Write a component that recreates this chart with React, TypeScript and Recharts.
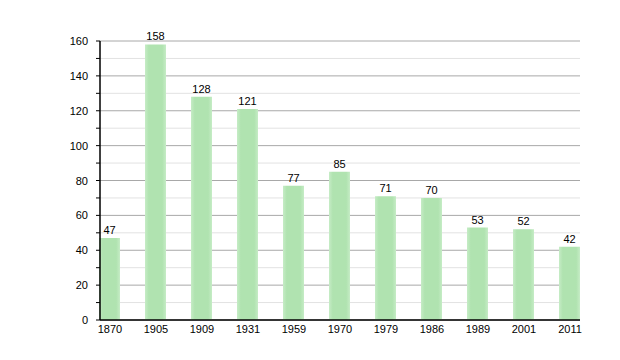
import React from "react";
import { BarChart, Bar, XAxis, YAxis, CartesianGrid, LabelList } from "recharts";

const years = ["1870", "1905", "1909", "1931", "1959", "1970", "1979", "1986", "1989", "2001", "2011"];
const population = [47, 158, 128, 121, 77, 85, 71, 70, 53, 52, 42];
const yTicks = [0, 10, 20, 30, 40, 50, 60, 70, 80, 90, 100, 110, 120, 130, 140, 150, 160];
const majorLines = [0, 20, 40, 60, 80, 100, 120, 140, 160];
const minorLines = [10, 30, 50, 70, 90, 110, 130, 150];

const data = years.map((y, i) => ({ i, year: y, value: population[i] }));

const FONT = "'Liberation Sans', Arial, sans-serif";

const YTick = (props: any) => {
  const { x, y, payload } = props;
  const v = payload.value;
  const major = v % 20 === 0;
  return (
    <g>
      <line x1={x + 4} y1={y} x2={x + 8} y2={y} stroke="#000" strokeWidth={1} />
      {major && (
        <text x={x - 4} y={y} dy={4} textAnchor="end" fontSize={11} fontFamily={FONT} fill="#000">
          {v}
        </text>
      )}
    </g>
  );
};

export default function App() {
  return (
    <BarChart
      width={620}
      height={360}
      data={data}
      margin={{ top: 33, right: 48, left: 32, bottom: 18 }}
    >
      <defs>
        <linearGradient id="barGrad" x1="0" y1="0" x2="1" y2="0">
          <stop offset="0" stopColor="#c6ecc6" />
          <stop offset="0.18" stopColor="#b0e3b0" />
          <stop offset="0.82" stopColor="#b0e3b0" />
          <stop offset="1" stopColor="#c6ecc6" />
        </linearGradient>
      </defs>
      <CartesianGrid vertical={false} horizontalValues={minorLines} stroke="#e2e2e2" strokeWidth={1} />
      <CartesianGrid vertical={false} horizontalValues={majorLines} stroke="#a8a8a8" strokeWidth={1} />
      <XAxis
        type="number"
        dataKey="i"
        domain={[-10 / 46, 10 + 10 / 46]}
        ticks={[0, 1, 2, 3, 4, 5, 6, 7, 8, 9, 10]}
        tickFormatter={(v: number) => years[v]}
        interval={0}
        height={30}
        tickLine={false}
        axisLine={{ stroke: "#000", strokeWidth: 1.5 }}
        tick={{ fontSize: 11, fontFamily: FONT, fill: "#000" }}
        tickMargin={-1}
      />
      <YAxis
        width={60}
        domain={[0, 160]}
        ticks={yTicks}
        interval={0}
        tickLine={false}
        axisLine={{ stroke: "#000", strokeWidth: 1.5 }}
        tick={<YTick />}
      />
      <Bar dataKey="value" barSize={21} fill="url(#barGrad)" isAnimationActive={false}>
        <LabelList
          dataKey="value"
          position="top"
          offset={4}
          style={{ fontSize: 11, fontFamily: FONT, fill: "#000" }}
        />
      </Bar>
    </BarChart>
  );
}
